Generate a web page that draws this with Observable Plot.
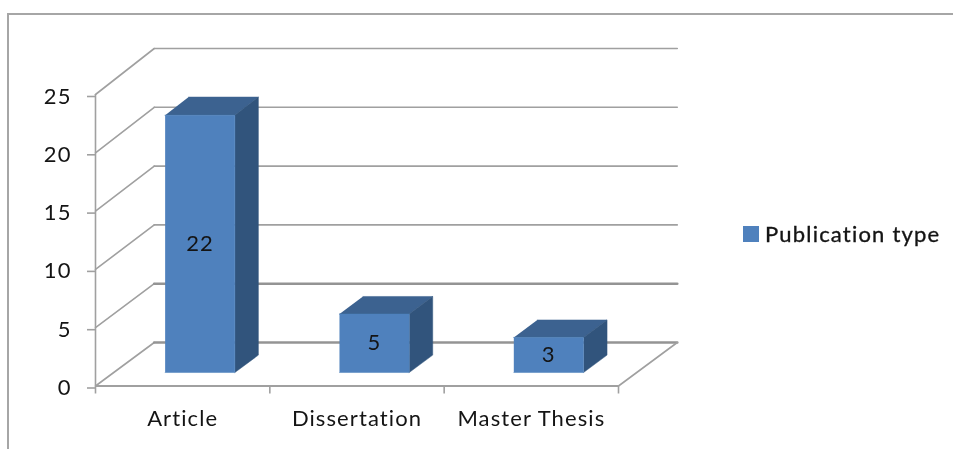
<!DOCTYPE html>
<html>
<head>
<meta charset="utf-8">
<script src="https://cdn.jsdelivr.net/npm/d3@7"></script>
<script src="https://cdn.jsdelivr.net/npm/@observablehq/plot@0.6"></script>
<style>
  html, body { margin: 0; padding: 0; background: #fff; }
  #wrap { position: relative; width: 953px; height: 449px; overflow: hidden; font-family: Lato, sans-serif; color: #141414; filter: blur(0.35px); }
  #wrap svg { position: absolute; left: 0; top: 0; }
  #wrap svg text { letter-spacing: 1.1px; -webkit-text-stroke: 0.35px #141414; }
  #frame { position: absolute; left: 7px; top: 13px; right: -5px; bottom: -5px; border-left: 2px solid #a6a6a6; border-top: 2px solid #a6a6a6; }
  #legend { position: absolute; left: 743px; top: 219px; display: flex; align-items: center; height: 30px; font-size: 22px; letter-spacing: 1.2px; white-space: nowrap; -webkit-text-stroke: 0.35px #141414; }
  #legend i { display: block; width: 16px; height: 16px; margin-right: 6px; background: #4f81bd; }
  #legend span { position: relative; top: -1px; }
</style>
</head>
<body>
<div id="wrap"><div id="frame"></div><div id="legend"><i></i><span id="legend-text"></span></div></div>
<script>
const categories = ["Article", "Dissertation", "Master Thesis"];
const values = [22, 5, 3];
const seriesName = "Publication type";
const yTicks = [0, 5, 10, 15, 20, 25];

// oblique projection of the chart box, in data units
const wallDx = 0.337, wallDy = 3.73, wallGrow = 0.0086;
const barFront = 0.31, barDepth = 0.4;
const barStart = 0.295, barWidth = 0.4;
const project = (x, y, d) => ({x: x + d * wallDx, y: y * (1 + d * wallGrow) + d * wallDy});
const n = categories.length;

const wallLines = yTicks.flatMap((v) => [
  {...project(0, v, 0), v},
  {...project(0, v, 1), v}
]);
const backLines = yTicks.flatMap((v) => [
  {...project(0, v, 1), v},
  {...project(n, v, 1), v}
]);
const floorEdge = [project(n, 0, 0), project(n, 0, 1)];

const faces = {front: [], top: [], side: []};
values.forEach((v, i) => {
  const l = i + barStart, r = l + barWidth, a = barFront, b = barFront + barDepth;
  const poly = (name, pts) => pts.forEach((p) => faces[name].push({...project(...p), id: i}));
  poly("front", [[l, 0, a], [r, 0, a], [r, v, a], [l, v, a]]);
  poly("top", [[l, v, a], [r, v, a], [r, v, b], [l, v, b]]);
  poly("side", [[r, 0, a], [r, 0, b], [r, v, b], [r, v, a]]);
});
const labels = values.map((v, i) => ({...project(i + barStart + barWidth / 2, v / 2, barFront), v}));

const gray = "#a0a0a0";
const fontSize = 22;
const face = (data, fill) => Plot.line(data, {x: "x", y: "y", z: "id", fill, stroke: fill, strokeWidth: 0.5});

const chart = Plot.plot({
  width: 953,
  height: 449,
  marginLeft: 95,
  marginRight: 335,
  marginTop: 94,
  marginBottom: 63.5,
  style: {background: "transparent", fontFamily: "Lato, sans-serif", color: "#141414"},
  x: {domain: [0, n], label: null},
  y: {domain: [0, 25], label: null},
  marks: [
    Plot.line(wallLines, {x: "x", y: "y", z: "v", stroke: gray, strokeWidth: 1.6}),
    Plot.line(backLines, {x: "x", y: "y", z: "v", stroke: (d) => d.v <= 5 ? "#949494" : gray, strokeWidth: (d) => d.v <= 5 ? 2.6 : 1.6}),
    Plot.line(floorEdge, {x: "x", y: "y", stroke: gray, strokeWidth: 1.6}),
    Plot.ruleX([0], {y1: 0, y2: 25, stroke: gray, strokeWidth: 1.6}),
    Plot.ruleY([0], {x1: 0, x2: n, stroke: gray, strokeWidth: 2}),
    Plot.axisY({ticks: yTicks, tickSize: 8, tickPadding: 16, fontSize, stroke: gray, strokeWidth: 1.6, strokeOpacity: 1, dy: 2, label: null, fill: "#141414"}),
    Plot.axisX({ticks: d3.range(n + 1), tickSize: 8, tickFormat: () => "", stroke: gray, strokeWidth: 1.6, strokeOpacity: 1, label: null}),
    Plot.axisX({ticks: categories.map((c, i) => i + 0.5), tickSize: 0, tickPadding: 24, tickFormat: (t) => categories[Math.floor(t)], fontSize, label: null, fill: "#141414"}),
    face(faces.top, "#3c6290"),
    face(faces.side, "#31547c"),
    face(faces.front, "#4f81bd"),
    Plot.text(labels, {x: "x", y: "y", text: "v", fontSize, fill: "#141414"})
  ]
});
document.getElementById("wrap").appendChild(chart);
document.getElementById("legend-text").textContent = seriesName;
</script>
</body>
</html>
